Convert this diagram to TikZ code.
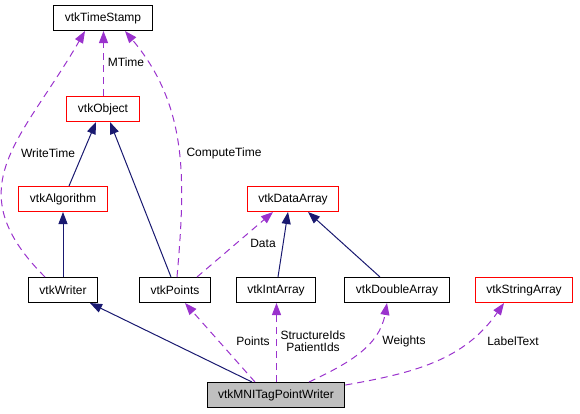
\documentclass[tikz,border=0pt]{standalone}
\usepackage{fontspec}
\setmainfont{Liberation Sans}
\usepackage{xcolor}
\usetikzlibrary{arrows.meta}

\definecolor{edgeblue}{HTML}{191970}
\definecolor{edgepurple}{HTML}{9A32CD}
\definecolor{boxred}{HTML}{FF0000}
\definecolor{boxgray}{HTML}{BFBFBF}

\begin{document}
\begin{tikzpicture}[x=1pt, y=-1pt, font=\fontsize{12}{13}\selectfont,
    cls/.style={rectangle, draw=black, line width=1pt, minimum height=25pt, inner xsep=11pt, inner ysep=0pt},
    redcls/.style={cls, draw=boxred},
    inherit/.style={draw=edgeblue, line width=1pt, -{Triangle[length=12pt,width=9pt]}},
    uses/.style={draw=edgepurple, line width=1pt, dash pattern=on 7pt off 5pt, -{Triangle[length=12pt,width=9pt,fill=edgepurple]}},
    lbl/.style={inner sep=0pt, align=center}]
    \useasboundingbox (0,0) rectangle (580,413);

    % classes
    \node[cls] (ts) at (103,18) {vtkTimeStamp};
    \node[redcls] (obj) at (103,109) {vtkObject};
    \node[redcls] (alg) at (63,199) {vtkAlgorithm};
    \node[redcls] (dar) at (293,199) {vtkDataArray};
    \node[cls] (wr) at (63,290) {vtkWriter};
    \node[cls] (pts) at (175,290) {vtkPoints};
    \node[cls] (ia) at (276,290) {vtkIntArray};
    \node[cls] (dbl) at (397,290) {vtkDoubleArray};
    \node[redcls] (sa) at (524,290) {vtkStringArray};
    \node[cls, fill=boxgray] (mni) at (276,395) {vtkMNITagPointWriter};

    % inheritance
    \draw[inherit] ([xshift=6pt]alg.north) -- ([xshift=-7pt]obj.south);
    \draw[inherit] ([xshift=-4pt]pts.north) -- ([xshift=7pt]obj.south);
    \draw[inherit] (wr.north) -- (alg.south);
    \draw[inherit] ([xshift=2pt]ia.north) -- ([xshift=-5pt]dar.south);
    \draw[inherit] ([xshift=-17pt]dbl.north) -- ([xshift=15pt]dar.south);
    \draw[inherit] ([xshift=-24pt]mni.north) -- ([xshift=27pt]wr.south);

    % members
    \draw[uses] ([xshift=0.5pt]obj.north) -- ([xshift=0.5pt]ts.south);
    \draw[uses] ([xshift=-18pt]wr.north) to[out=135, in=240, looseness=1.3] ([xshift=-18pt]ts.south);
    \draw[uses] ([xshift=2pt]pts.north) to[out=85, in=-50] ([xshift=22pt]ts.south);
    \draw[uses] ([xshift=22pt]pts.north) -- ([xshift=-20pt]dar.south);
    \draw[uses] ([xshift=-21pt]mni.north) -- ([xshift=10pt]pts.south);
    \draw[uses] ([xshift=0.5pt]mni.north) -- ([xshift=0.5pt]ia.south);
    \draw[uses] ([xshift=33pt]mni.north) to[out=25, in=-100] ([xshift=-10pt]dbl.south);
    \draw[uses] ([yshift=-3pt]mni.north east) to[out=10, in=-125] ([xshift=-20pt]sa.south);

    % labels
    \node[lbl] (l_mtime) at (126,62) {MTime};
    \node[lbl] (l_write) at (48,153) {WriteTime};
    \node[lbl] (l_comp) at (224,153) {ComputeTime};
    \node[lbl] (l_data) at (263,243) {Data};
    \node[lbl] (l_pts) at (253,341) {Points};
    \node[lbl] (l_ids) at (313,341) {StructureIds\\[-1pt]PatientIds};
    \node[lbl] (l_wgt) at (404,341) {Weights};
    \node[lbl] (l_lab) at (513,341) {LabelText};
\end{tikzpicture}
\end{document}
